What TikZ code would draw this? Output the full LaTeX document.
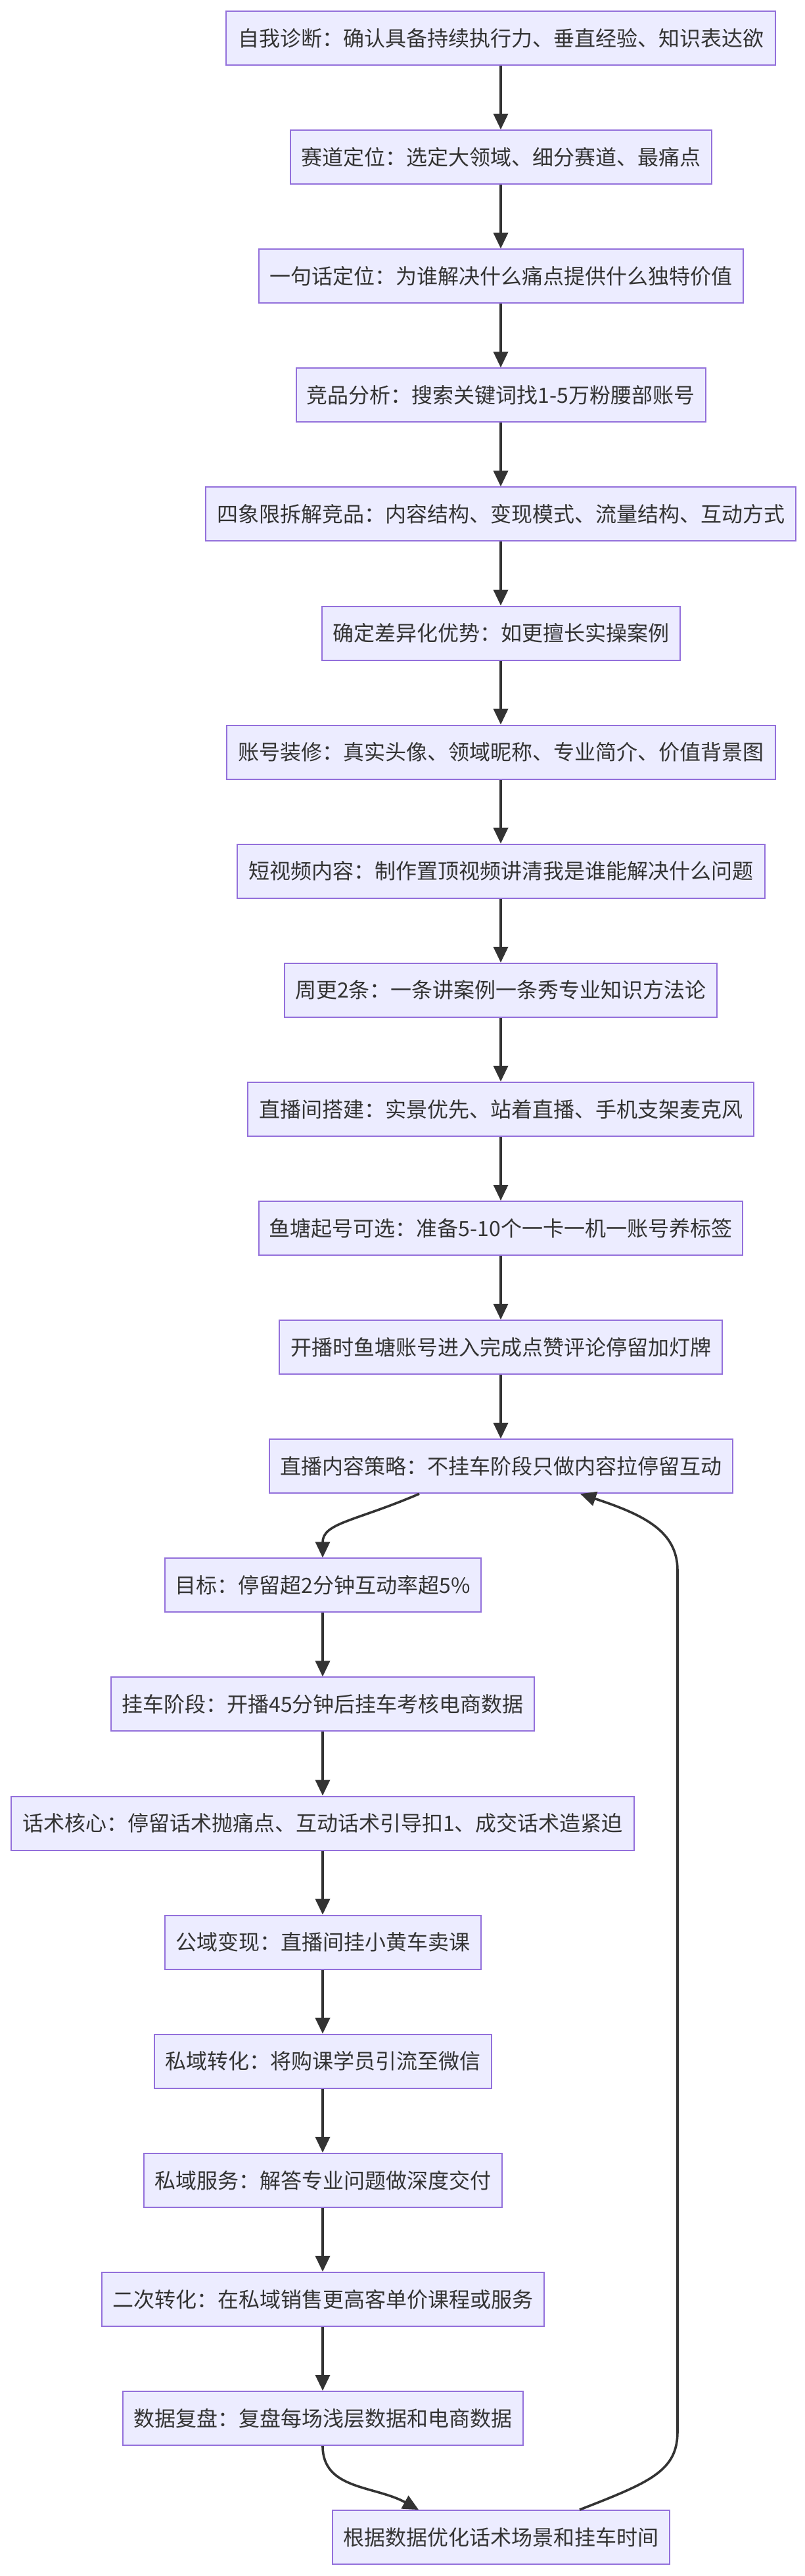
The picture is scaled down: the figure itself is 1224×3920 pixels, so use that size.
\documentclass[tikz,border=0pt]{standalone}
\usepackage{fontspec}
\setmainfont{Noto Sans CJK SC}
\usetikzlibrary{arrows.meta,calc}
\definecolor{fl}{HTML}{ECECFF}
\definecolor{bd}{HTML}{9370DB}
\definecolor{ln}{HTML}{333333}
\definecolor{tx}{HTML}{333333}
\begin{document}
\begin{tikzpicture}[x=1pt,y=-1pt,
  box/.style={draw=bd, fill=fl, line width=2pt, minimum height=82pt, inner xsep=16pt, inner ysep=0pt,
    text=tx, font=\fontsize{32}{38}\selectfont, anchor=center},
  arr/.style={draw=ln, line width=3.6pt, -{Triangle[length=24pt,width=22pt]}}]
\fill[white] (0,0) rectangle (1224,3920);
\useasboundingbox (0,0) rectangle (1224,3920);
\node[box, minimum width=836pt] (n1) at (762,58) {自我诊断：确认具备持续执行力、垂直经验、知识表达欲};
\node[box, minimum width=641pt] (n2) at (762,239.1) {赛道定位：选定大领域、细分赛道、最痛点};
\node[box, minimum width=737pt] (n3) at (762,420.2) {一句话定位：为谁解决什么痛点提供什么独特价值};
\node[box, minimum width=623pt] (n4) at (762,601.3) {竞品分析：搜索关键词找1-5万粉腰部账号};
\node[box, minimum width=898pt] (n5) at (762,782.4) {四象限拆解竞品：内容结构、变现模式、流量结构、互动方式};
\node[box, minimum width=545pt] (n6) at (762,963.5) {确定差异化优势：如更擅长实操案例};
\node[box, minimum width=835pt] (n7) at (762,1144.6) {账号装修：真实头像、领域昵称、专业简介、价值背景图};
\node[box, minimum width=803pt] (n8) at (762,1325.7) {短视频内容：制作置顶视频讲清我是谁能解决什么问题};
\node[box, minimum width=658pt] (n9) at (762,1506.8) {周更2条：一条讲案例一条秀专业知识方法论};
\node[box, minimum width=770pt] (n10) at (762,1687.9) {直播间搭建：实景优先、站着直播、手机支架麦克风};
\node[box, minimum width=736pt] (n11) at (762,1869) {鱼塘起号可选：准备5-10个一卡一机一账号养标签};
\node[box, minimum width=674pt] (n12) at (762,2050.1) {开播时鱼塘账号进入完成点赞评论停留加灯牌};
\node[box, minimum width=705pt] (n13) at (762,2231.2) {直播内容策略：不挂车阶段只做内容拉停留互动};
\node[box, minimum width=469pt] (n14) at (491,2412.3) {目标：停留超2分钟互动率超5\%};
\node[box, minimum width=643pt] (n15) at (491,2593.4) {挂车阶段：开播45分钟后挂车考核电商数据};
\node[box, minimum width=948pt] (n16) at (491,2774.5) {话术核心：停留话术抛痛点、互动话术引导扣1、成交话术造紧迫};
\node[box, minimum width=481pt] (n17) at (491,2955.6) {公域变现：直播间挂小黄车卖课};
\node[box, minimum width=513pt] (n18) at (491,3136.7) {私域转化：将购课学员引流至微信};
\node[box, minimum width=545pt] (n19) at (491,3317.8) {私域服务：解答专业问题做深度交付};
\node[box, minimum width=673pt] (n20) at (491,3498.9) {二次转化：在私域销售更高客单价课程或服务};
\node[box, minimum width=609pt] (n21) at (491,3680) {数据复盘：复盘每场浅层数据和电商数据};
\node[box, minimum width=513pt] (n22) at (762,3861.1) {根据数据优化话术场景和挂车时间};
\foreach \a/\b in {n1/n2,n2/n3,n3/n4,n4/n5,n5/n6,n6/n7,n7/n8,n8/n9,n9/n10,n10/n11,n11/n12,n12/n13,
  n14/n15,n15/n16,n16/n17,n17/n18,n18/n19,n19/n20,n20/n21}
  \draw[arr] (\a.south) -- (\b.north);
\draw[arr] ($(n13.south)+(-124,0)$) .. controls ($(n13.south)+(-222,42)$) and ($(n14.north)+(0,-53)$) .. (n14.north);
\draw[arr] (n21.south) .. controls ($(n21.south)+(0,67)$) and ($(n22.north)+(-192,-37)$) .. ($(n22.north)+(-125,0)$);
\coordinate (lb) at (1031,3700);
\coordinate (lt) at (1031,2390);
\draw[arr] ($(n22.north)+(120,0)$) .. controls ($(n22.north)+(228,-42)$) and ($(lb)+(0,60)$) .. (lb) -- (lt)
  .. controls ($(lt)+(0,-60)$) and ($(n13.south)+(218,32)$) .. ($(n13.south)+(121,0)$);
\end{tikzpicture}
\end{document}
